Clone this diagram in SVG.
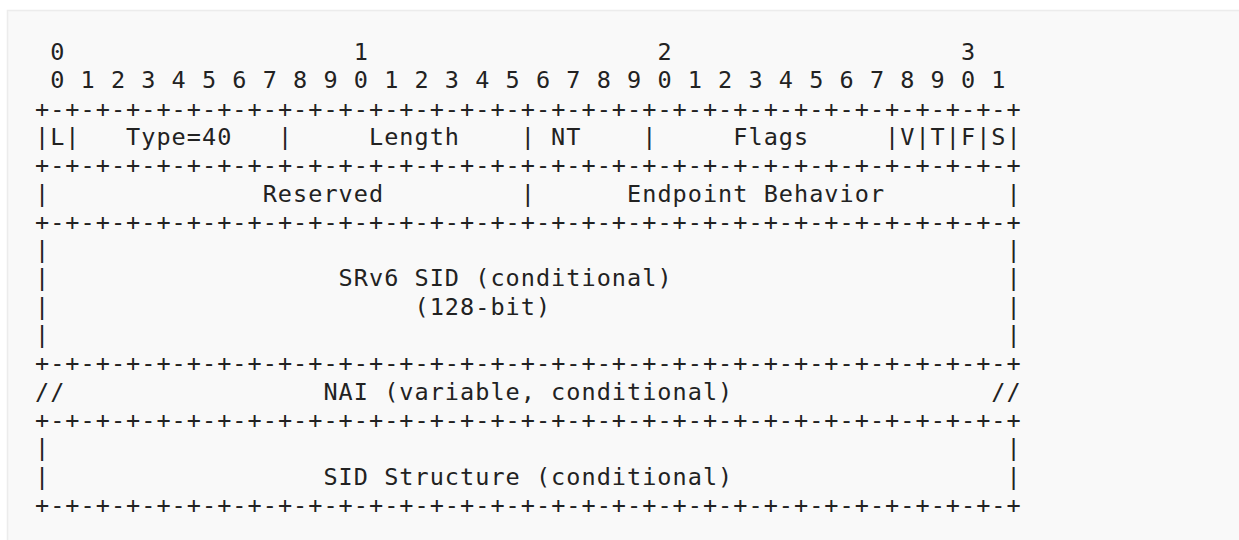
<svg xmlns="http://www.w3.org/2000/svg" width="1239" height="540" viewBox="0 0 1239 540">
<style>
  text { font-family: "DejaVu Sans Mono", "Liberation Mono", monospace; font-size: 23.5px; letter-spacing: 1.032px; fill: #222; white-space: pre; }
</style>
<rect x="7.5" y="10.5" width="1240" height="540" fill="#f9f9f9" stroke="#ececec" stroke-width="1.5"/>
<g id="bit-ruler">
  <text x="50.18" y="60">0</text>
  <text x="353.78" y="60">1</text>
  <text x="657.38" y="60">2</text>
  <text x="960.98" y="60">3</text>
  <text x="50.18" y="88.3" xml:space="preserve">0 1 2 3 4 5 6 7 8 9 0 1 2 3 4 5 6 7 8 9 0 1 2 3 4 5 6 7 8 9 0 1</text>
</g>
<g id="separators">
  <text x="35" y="116.6">+-+-+-+-+-+-+-+-+-+-+-+-+-+-+-+-+-+-+-+-+-+-+-+-+-+-+-+-+-+-+-+-+</text>
  <text x="35" y="173.2">+-+-+-+-+-+-+-+-+-+-+-+-+-+-+-+-+-+-+-+-+-+-+-+-+-+-+-+-+-+-+-+-+</text>
  <text x="35" y="229.8">+-+-+-+-+-+-+-+-+-+-+-+-+-+-+-+-+-+-+-+-+-+-+-+-+-+-+-+-+-+-+-+-+</text>
  <text x="35" y="371.3">+-+-+-+-+-+-+-+-+-+-+-+-+-+-+-+-+-+-+-+-+-+-+-+-+-+-+-+-+-+-+-+-+</text>
  <text x="35" y="427.9">+-+-+-+-+-+-+-+-+-+-+-+-+-+-+-+-+-+-+-+-+-+-+-+-+-+-+-+-+-+-+-+-+</text>
  <text x="35" y="512.8">+-+-+-+-+-+-+-+-+-+-+-+-+-+-+-+-+-+-+-+-+-+-+-+-+-+-+-+-+-+-+-+-+</text>
</g>
<g id="row-header">
  <text x="35" y="144.9">|L|</text>
  <text x="126.08" y="144.9">Type=40</text>
  <text x="277.88" y="144.9">|</text>
  <text x="368.96" y="144.9">Length</text>
  <text x="520.76" y="144.9">|</text>
  <text x="551.12" y="144.9">NT</text>
  <text x="642.2" y="144.9">|</text>
  <text x="733.28" y="144.9">Flags</text>
  <text x="885.08" y="144.9">|V|T|F|S|</text>
</g>
<g id="row-reserved">
  <text x="35" y="201.5">|</text>
  <text x="262.7" y="201.5">Reserved</text>
  <text x="520.76" y="201.5">|</text>
  <text x="627.02" y="201.5">Endpoint Behavior</text>
  <text x="1006.5" y="201.5">|</text>
</g>
<g id="row-srv6-sid">
  <text x="35" y="258.1">|</text>
  <text x="1006.5" y="258.1">|</text>
  <text x="35" y="286.4">|</text>
  <text x="338.6" y="286.4">SRv6 SID (conditional)</text>
  <text x="1006.5" y="286.4">|</text>
  <text x="35" y="314.7">|</text>
  <text x="414.5" y="314.7">(128-bit)</text>
  <text x="1006.5" y="314.7">|</text>
  <text x="35" y="343">|</text>
  <text x="1006.5" y="343">|</text>
</g>
<g id="row-nai">
  <text x="35" y="399.6">//</text>
  <text x="323.42" y="399.6">NAI (variable, conditional)</text>
  <text x="991.32" y="399.6">//</text>
</g>
<g id="row-sid-structure">
  <text x="35" y="456.2">|</text>
  <text x="1006.5" y="456.2">|</text>
  <text x="35" y="484.5">|</text>
  <text x="323.42" y="484.5">SID Structure (conditional)</text>
  <text x="1006.5" y="484.5">|</text>
</g>
</svg>
